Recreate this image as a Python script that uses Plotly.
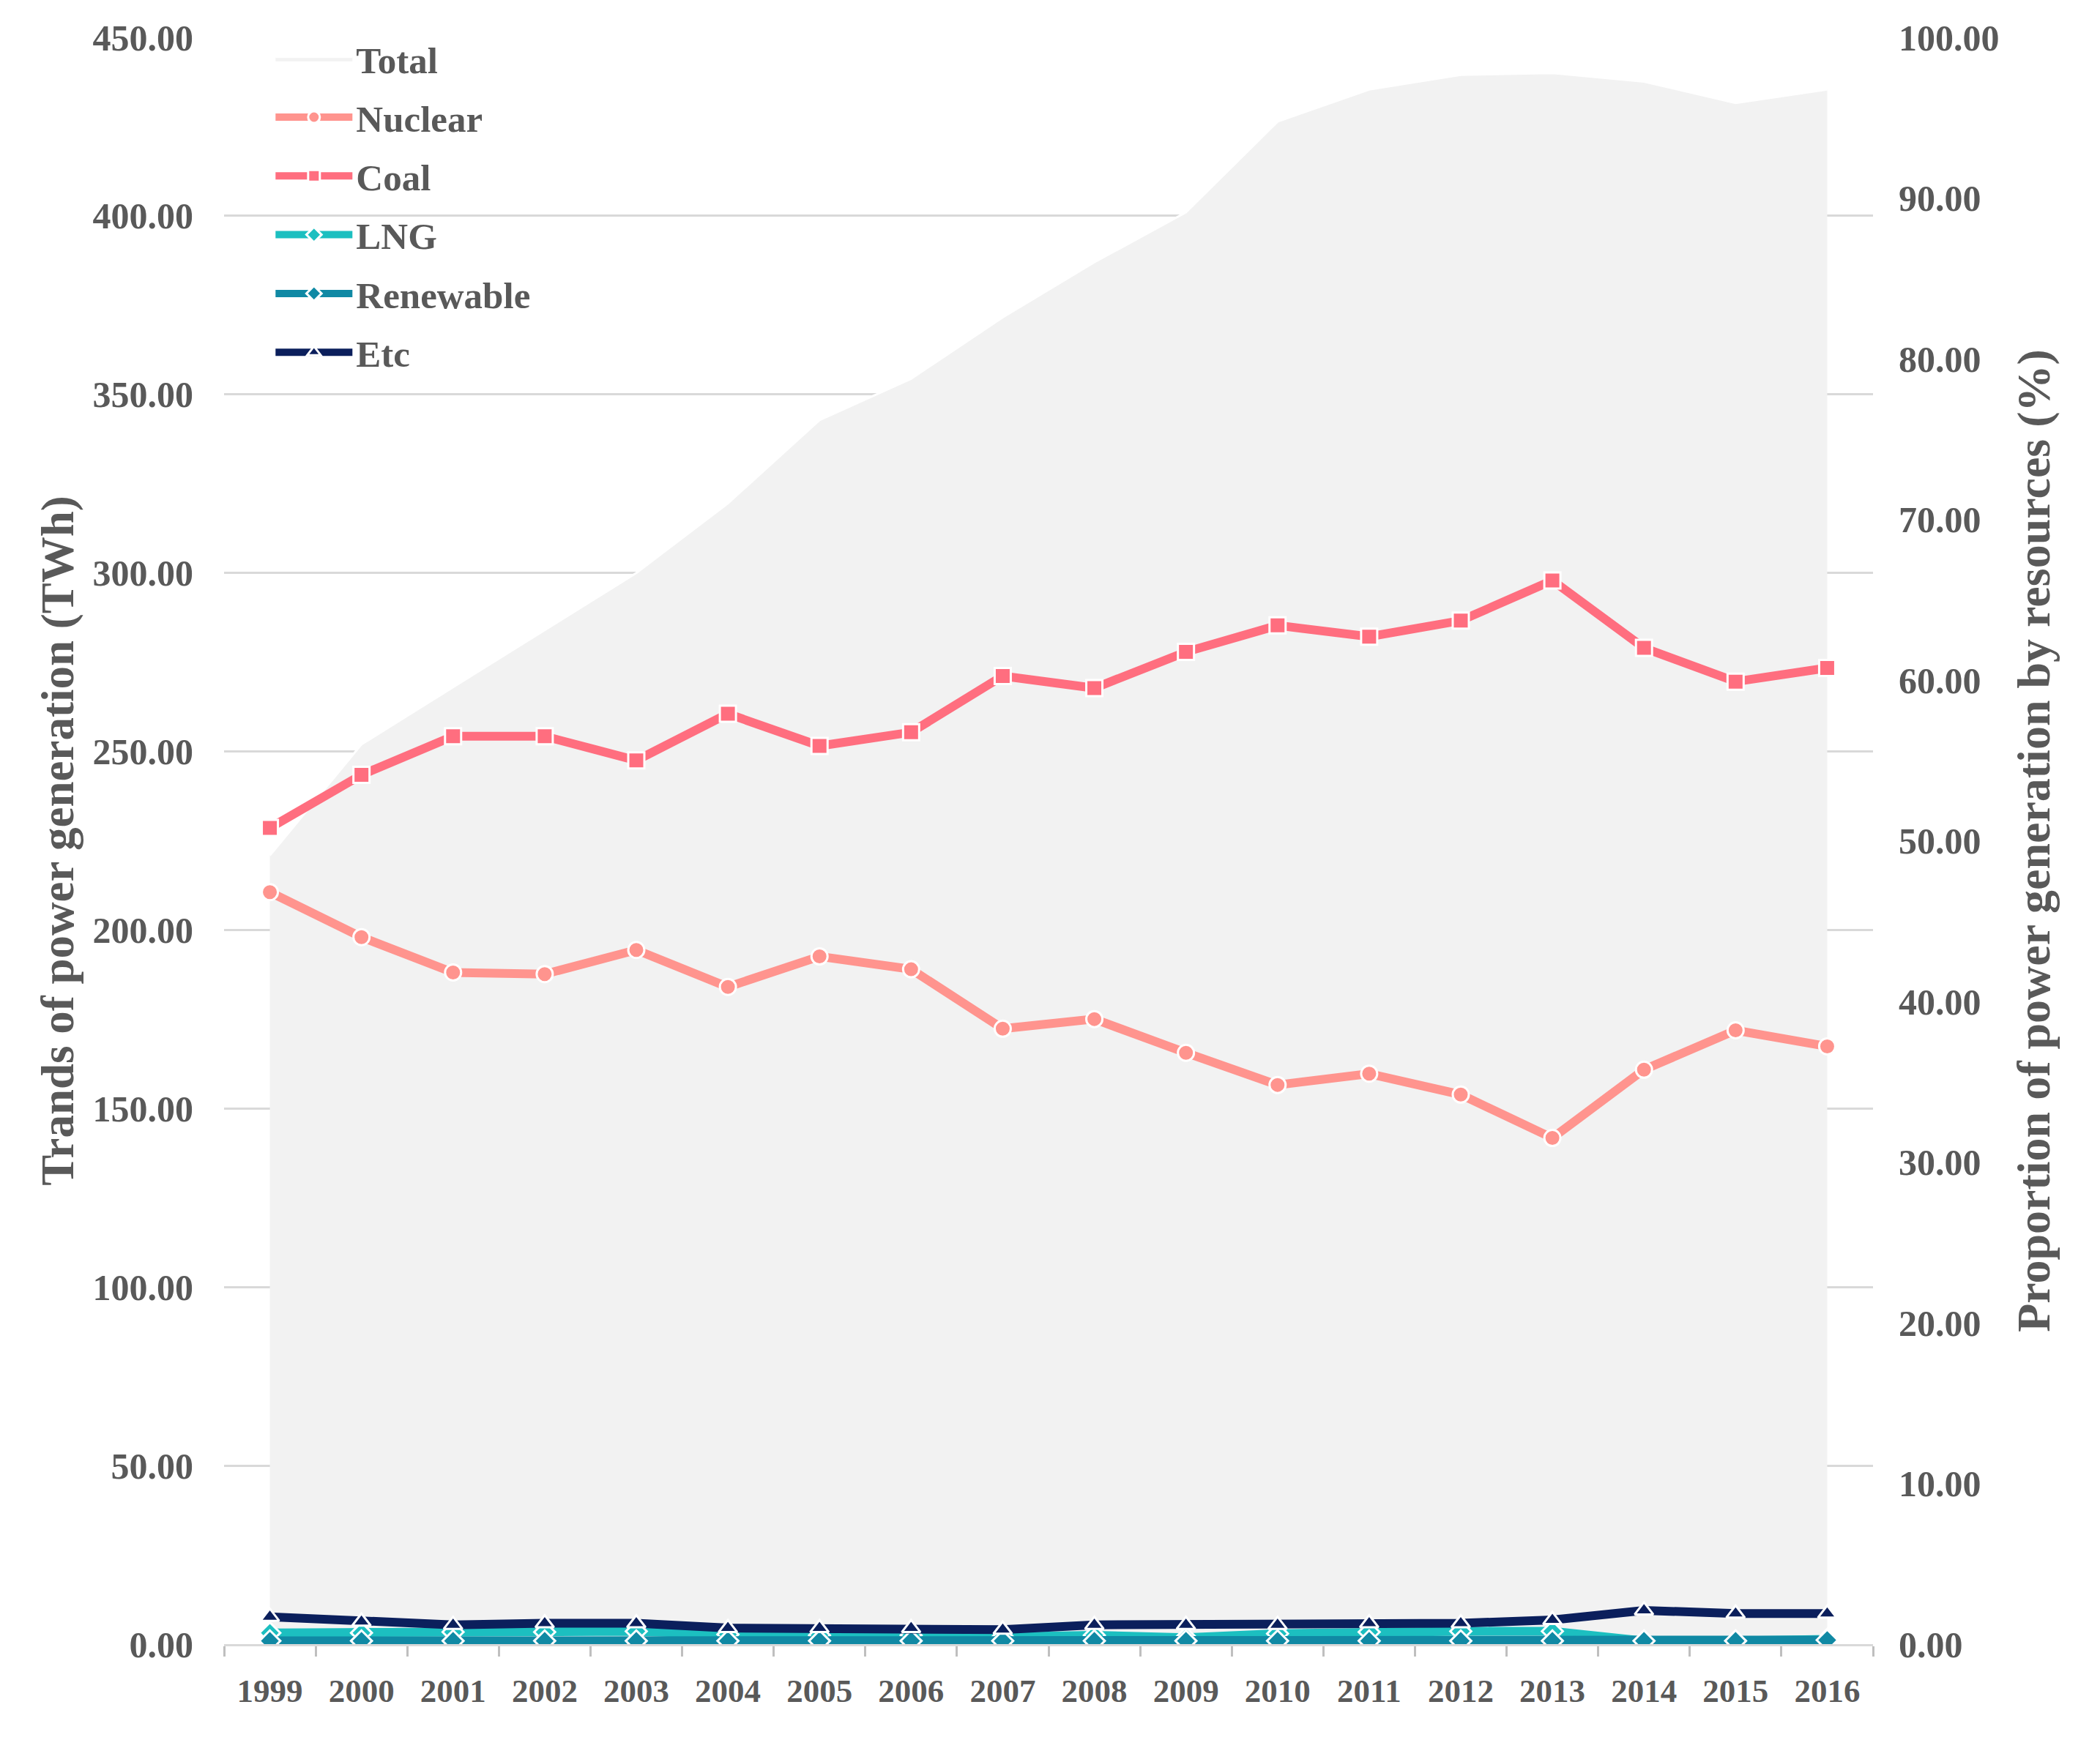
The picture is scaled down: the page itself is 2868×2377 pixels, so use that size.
import plotly.graph_objects as go

years = [str(y) for y in range(1999, 2017)]
total_twh = [220.9, 252.0, 268.0, 284.0, 300.0, 319.5, 342.8, 354.4, 371.6, 387.0,
             401.0, 426.4, 435.4, 439.5, 440.0, 437.6, 431.6, 435.4]
nuclear = [46.8, 44.0, 41.8, 41.7, 43.2, 40.9, 42.8, 42.0, 38.3, 38.9,
           36.8, 34.8, 35.5, 34.2, 31.5, 35.75, 38.2, 37.2]
coal = [50.8, 54.1, 56.5, 56.5, 55.0, 57.9, 55.9, 56.75, 60.25, 59.5,
        61.75, 63.4, 62.7, 63.7, 66.2, 62.0, 59.9, 60.75]
lng = [0.7, 0.7, 0.75, 0.75, 0.8, 0.6, 0.55, 0.55, 0.45, 0.55,
       0.4, 0.65, 0.75, 0.8, 0.8, 0.2, 0.2, 0.3]
renewable = [0.2, 0.2, 0.2, 0.2, 0.2, 0.2, 0.2, 0.2, 0.2, 0.2,
             0.2, 0.2, 0.2, 0.2, 0.2, 0.2, 0.2, 0.25]
etc = [1.7, 1.4, 1.2, 1.3, 1.3, 1.0, 1.0, 1.0, 0.9, 1.2,
       1.2, 1.2, 1.3, 1.3, 1.5, 2.1, 1.9, 1.9]

FONT = "Liberation Serif"
GREY = "#595959"

fig = go.Figure()
fig.add_trace(go.Scatter(
    x=years, y=total_twh, name="Total", mode="lines",
    fill="tozeroy", fillcolor="#F2F2F2",
    line=dict(color="#FFFFFF", width=3), yaxis="y", legendgroup="a"))

series = [
    ("Nuclear", nuclear, "#FF948E", "circle"),
    ("Coal", coal, "#FF6E7F", "square"),
    ("LNG", lng, "#1CBFC0", "diamond"),
    ("Renewable", renewable, "#1089A4", "diamond"),
    ("Etc", etc, "#0B1F5C", "triangle-up"),
]
for i, (name, vals, col, sym) in enumerate(series):
    fig.add_trace(go.Scatter(
        x=years, y=vals, name=name, mode="lines+markers", yaxis="y2",
        line=dict(color=col, width=12),
        marker=dict(symbol=sym, size=22, color=col, line=dict(color="#FFFFFF", width=3)),
        legendgroup=chr(98 + i)))

fig.update_layout(
    width=2868, height=2377, autosize=False,
    margin=dict(l=298, r=318, t=43, b=139),
    paper_bgcolor="white", plot_bgcolor="white",
    font=dict(family=FONT, color=GREY, size=48),
    showlegend=True,
    legend=dict(x=0.029, y=1.005, xanchor="left", yanchor="top",
                bgcolor="rgba(0,0,0,0)", font=dict(family=FONT, size=51, color=GREY, weight="bold"),
                tracegroupgap=11, itemwidth=105, traceorder="grouped"),
    xaxis=dict(type="category", range=[-0.5, 17.5], tickson="boundaries",
               ticks="outside", ticklen=14, tickwidth=3, tickcolor="#BFBFBF",
               showline=True, linecolor="#D9D9D9", linewidth=3, showgrid=False,
               tickfont=dict(family=FONT, size=45, color=GREY, weight="bold"),
               ticklabelstandoff=22),
    yaxis=dict(range=[0, 450], dtick=50, tickformat=".2f", showgrid=True,
               gridcolor="#D9D9D9", gridwidth=3, zeroline=False, showline=False,
               tickfont=dict(family=FONT, size=50, color=GREY, weight="bold"),
               ticklabelstandoff=41,
               title=dict(text="Trands of power generation (TWh)", standoff=5,
                          font=dict(family=FONT, size=63, color=GREY, weight="bold"))),
    yaxis2=dict(range=[0, 100], dtick=10, tickformat=".2f", overlaying="y", side="right",
                showgrid=False, zeroline=False, showline=False,
                tickfont=dict(family=FONT, size=50, color=GREY, weight="bold"),
                ticklabelstandoff=34,
                title=dict(text="Proportion of power generation by resources (%)", standoff=24,
                           font=dict(family=FONT, size=64, color=GREY, weight="bold"))),
)

fig.write_html("out.html")
